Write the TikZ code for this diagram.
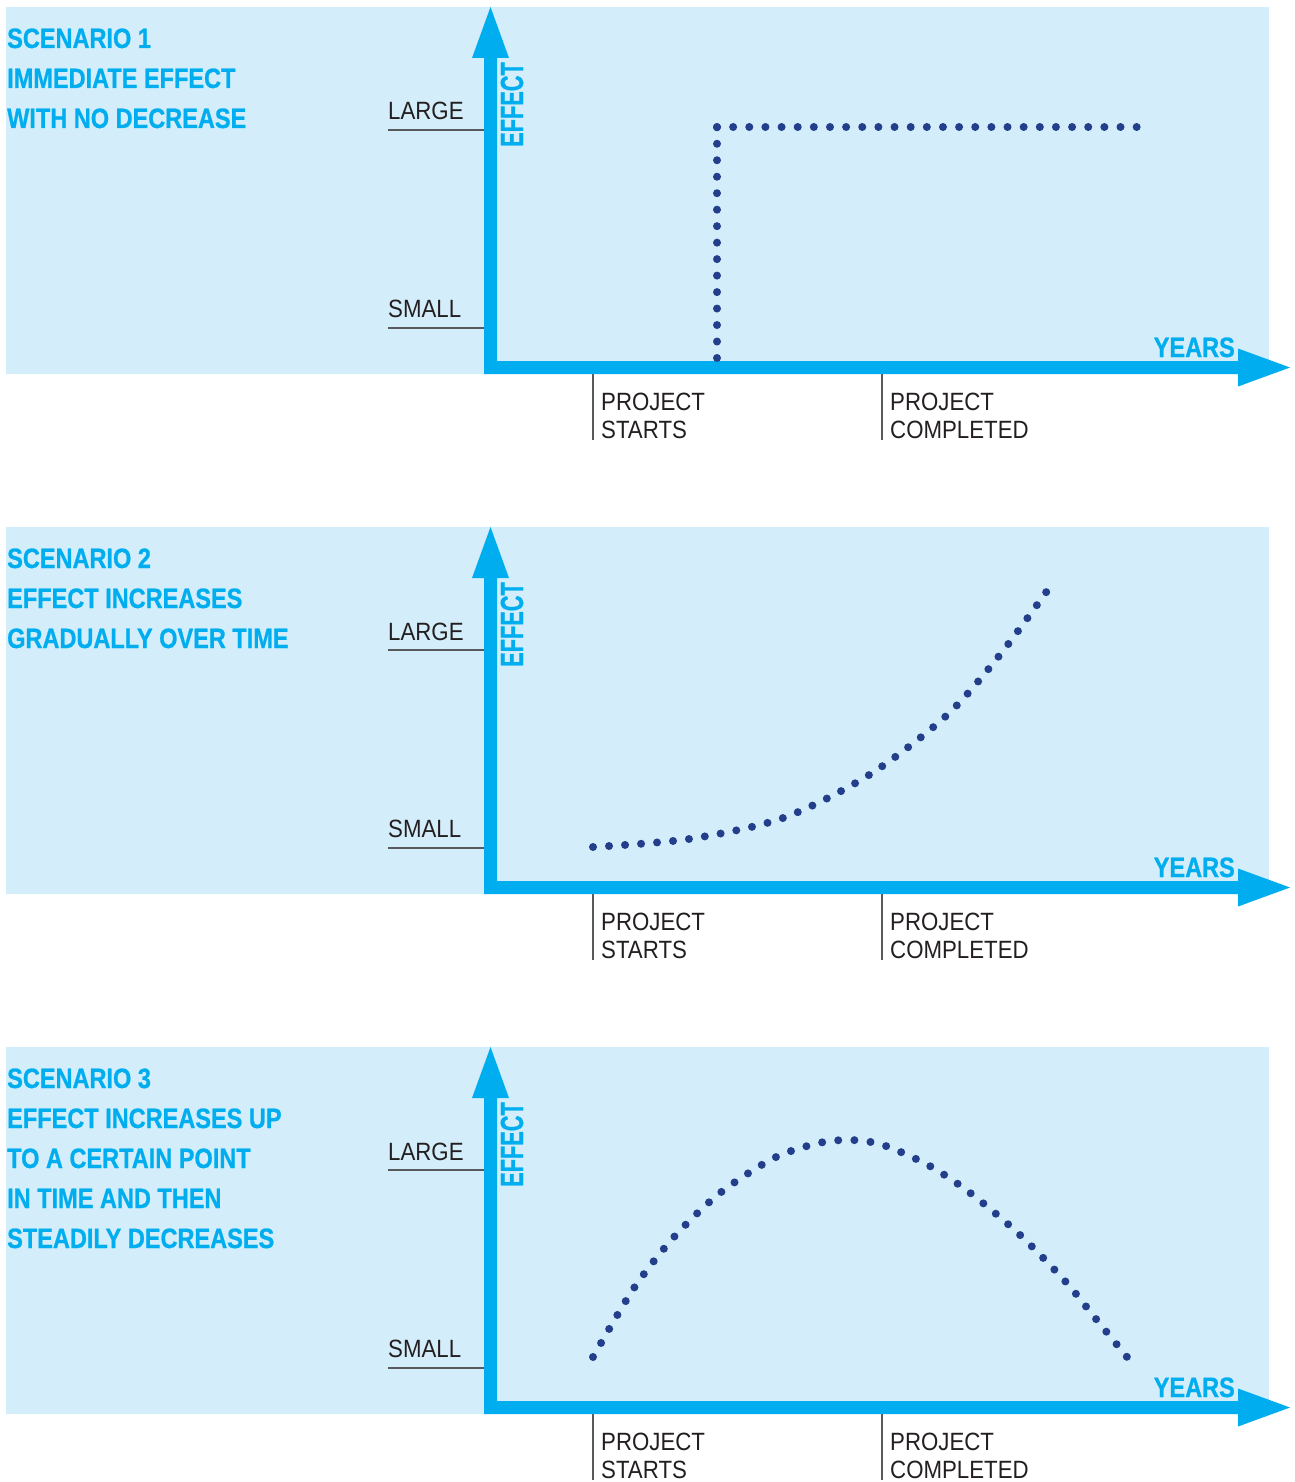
\documentclass[tikz,border=0pt]{standalone}
\usepackage{fontspec}
\setmainfont{Liberation Sans}
\newfontfamily\labfont[FakeStretch=0.89]{Liberation Sans}
\newfontfamily\hdfont[FakeStretch=0.84,FakeBold=0.8]{Liberation Sans}
\newfontfamily\effont[FakeStretch=0.68,FakeBold=0.8]{Liberation Sans}
\definecolor{bgc}{HTML}{D3EEFA}
\definecolor{axc}{HTML}{00AEEF}
\definecolor{dotc}{HTML}{233F8C}
\definecolor{txc}{HTML}{231F20}
\definecolor{tkc}{HTML}{58595B}
\tikzset{
  lab/.style={inner sep=0pt, anchor=base west, text=txc, font=\labfont\fontsize{25}{29}\selectfont},
  head/.style={inner sep=0pt, anchor=base west, text=axc, font=\hdfont\bfseries\fontsize{28}{40}\selectfont},
  tickline/.style={draw=tkc, line width=1.5pt},
  dotpath/.style={draw=dotc, line width=8pt, line cap=round, dash pattern=on 0pt off #1},
}
\newcommand\chartframe[1]{%
  \fill[bgc] (6,7) rectangle (1269,374);
  \coordinate (lgA#1) at (388,130); \coordinate (lgB#1) at (490,130);
  \coordinate (smA#1) at (388,328); \coordinate (smB#1) at (490,328);
  \coordinate (psA#1) at (593,368); \coordinate (psB#1) at (593,440);
  \coordinate (pcA#1) at (882,368); \coordinate (pcB#1) at (882,440);
  \draw[tickline] (lgA#1) -- (lgB#1);
  \draw[tickline] (smA#1) -- (smB#1);
  \draw[tickline] (psA#1) -- (psB#1);
  \draw[tickline] (pcA#1) -- (pcB#1);
  \fill[axc] (484,374) -- (484,58) -- (472,58) -- (490.5,7) -- (509,58) -- (497,58)
    -- (497,361) -- (1238,361) -- (1238,348.5) -- (1290,367.5) -- (1238,386.5) -- (1238,374) -- cycle;
  \node[lab] (large#1) at (388,120) {LARGE};
  \node[lab] (small#1) at (388,317) {SMALL};
  \node[lab] (proj#1) at (601,410) {PROJECT};
  \node[lab] (starts#1) at (601,438.5) {STARTS};
  \node[lab] (projc#1) at (890,410) {PROJECT};
  \node[lab] (compl#1) at (890,438.5) {COMPLETED};
  \node[inner sep=0pt, anchor=base west, rotate=90, text=axc, font=\effont\bfseries\fontsize{32}{34}\selectfont] (effect#1) at (523,147) {EFFECT};
  \node[head, anchor=base east] (years#1) at (1235,357) {YEARS};
}
\begin{document}
\begin{tikzpicture}[x=1pt,y=-1pt]
\useasboundingbox (0,0) rectangle (1294,1482);
\fill[white] (0,0) rectangle (1294,1482);
% Panel 1
\begin{scope}
  \chartframe{1}
  \node[head] (h1a) at (7,48) {SCENARIO 1};
  \node[head] (h1b) at (7,88) {IMMEDIATE EFFECT};
  \node[head] (h1c) at (7,128) {WITH NO DECREASE};
  \coordinate (d1a) at (717,358);
  \coordinate (d1b) at (717,127);
  \coordinate (d1c) at (1137,127);
  \draw[dotpath=16.48pt] (d1a) -- (d1b);
  \draw[dotpath=16.14pt] (d1b) -- (d1c);
\end{scope}
% Panel 2
\begin{scope}[shift={(0,520)}]
  \chartframe{2}
  \node[head] (h2a) at (7,48) {SCENARIO 2};
  \node[head] (h2b) at (7,88) {EFFECT INCREASES};
  \node[head] (h2c) at (7,128) {GRADUALLY OVER TIME};
  \draw[dotpath=16.05pt] plot[smooth] coordinates {(593,327) (689,319) (783,298) (869,255) (946,196) (999,136) (1047,71)};
\end{scope}
% Panel 3
\begin{scope}[shift={(0,1040)}]
  \chartframe{3}
  \node[head] (h3a) at (7,48) {SCENARIO 3};
  \node[head] (h3b) at (7,88) {EFFECT INCREASES UP};
  \node[head] (h3c) at (7,128) {TO A CERTAIN POINT};
  \node[head] (h3d) at (7,168) {IN TIME AND THEN};
  \node[head] (h3e) at (7,208) {STEADILY DECREASES};
  \draw[dotpath=16.2pt] plot[smooth] coordinates {(593,317) (634,248) (674,197) (720,153) (774,118) (819,103) (851,100) (883,105) (928,125) (969,152) (1019,194) (1065,241) (1096,279) (1127,317)};
\end{scope}
\end{tikzpicture}
\end{document}
